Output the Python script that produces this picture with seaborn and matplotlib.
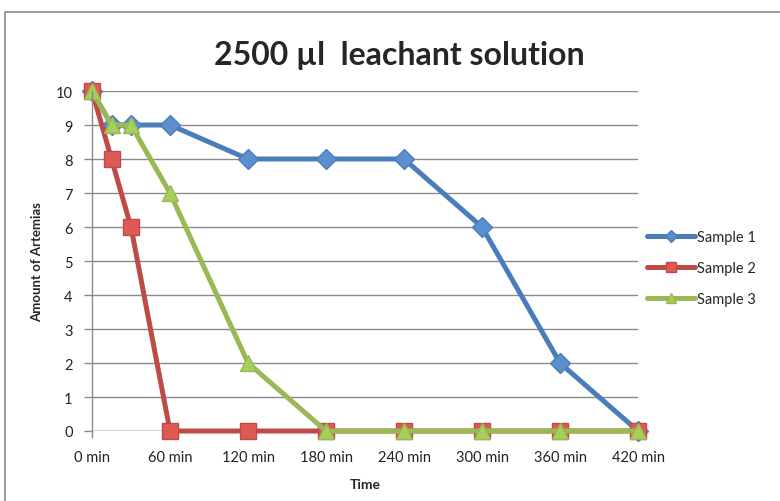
import matplotlib
matplotlib.use("Agg")
import matplotlib.pyplot as plt
import seaborn as sns
import pandas as pd
from matplotlib.patches import Rectangle

minutes = [0, 15, 30, 60, 120, 180, 240, 300, 360, 420]
sample1 = [10, 9, 9, 9, 8, 8, 8, 6, 2, 0]
sample2 = [10, 8, 6, 0, 0, 0, 0, 0, 0, 0]
sample3 = [10, 9, 9, 7, 2, 0, 0, 0, 0, 0]
tick_minutes = [0, 60, 120, 180, 240, 300, 360, 420]
tick_labels = [f"{m} min" for m in tick_minutes]
series_names = ["Sample 1", "Sample 2", "Sample 3"]

rows = []
for name, vals in zip(series_names, [sample1, sample2, sample3]):
    for m, v in zip(minutes, vals):
        rows.append({"Time": m, "Amount": v, "Series": name})
df = pd.DataFrame(rows)

sns.set_style("white")
plt.rcParams["font.family"] = ["Lato", "DejaVu Sans"]

fig = plt.figure(figsize=(7.8, 5.02), dpi=100)
ax = fig.add_axes([92/780, 1-432/502, (638-92)/780, (432-92)/502])

palette = {"Sample 1": "#4a7ebb", "Sample 2": "#be4b48", "Sample 3": "#98b954"}
markers = {"Sample 1": "D", "Sample 2": "s", "Sample 3": "^"}
face = {"Sample 1": "#5b8fd0", "Sample 2": "#e05a55", "Sample 3": "#a6d05a"}

sns.lineplot(data=df, x="Time", y="Amount", hue="Series", style="Series",
             markers=markers, dashes=False, palette=palette, linewidth=3.6,
             markersize=11, ax=ax, legend=False, clip_on=False)

for line, name in zip(ax.lines, series_names):
    line.set_markerfacecolor(face[name])
    line.set_markeredgecolor(palette[name])
    line.set_markeredgewidth(1.0)
    line.set_clip_on(False)
    if name == "Sample 1":
        line.set_markersize(10)
    else:
        line.set_markersize(12)

ax.set_xlim(0, 420)
ax.set_ylim(0, 10)
ax.set_yticks(range(0, 11))
ax.set_xticks(tick_minutes)
ax.set_xticklabels(tick_labels)
ax.yaxis.grid(True, color="#8a8a8a", linewidth=1.0)
ax.set_axisbelow(True)
for s in ["top", "right", "bottom"]:
    ax.spines[s].set_visible(False)
ax.spines["left"].set_color("#8a8a8a")
ax.spines["left"].set_linewidth(1.0)
ax.axhline(0, color="#8a8a8a", linewidth=1.0, zorder=0.5)
ax.tick_params(axis="y", left=True, length=6, width=1, color="#8a8a8a",
               labelsize=10.5, pad=8, labelcolor="#222222")
ax.tick_params(axis="x", bottom=True, length=5, width=1, color="#8a8a8a",
               labelsize=10.5, pad=9, labelcolor="#222222")

ax.set_xlabel("Time", fontsize=10, fontweight="bold", labelpad=10)
ax.set_ylabel("Amount of Artemias", fontsize=9.5, fontweight="bold", labelpad=9)

fig.text(399/780, 1-56/502, "2500 µl  leachant solution", ha="center", va="center",
         fontsize=23, fontweight="bold")

handles = []
for name in series_names:
    h, = ax.plot([], [], color=palette[name], marker=markers[name], linewidth=3.6,
                 markersize=7 if name != "Sample 1" else 6,
                 markerfacecolor=face[name], markeredgecolor=palette[name])
    handles.append(h)
leg = fig.legend(handles, series_names, loc="center left",
                 bbox_to_anchor=(634/780, 1-269/502), frameon=False,
                 fontsize=10.5, handlelength=3.3, handletextpad=0.1,
                 labelspacing=1.15)

fig.add_artist(Rectangle((5/780, -0.1), 1.2, 1-13/502+0.1, transform=fig.transFigure,
                         fill=False, edgecolor="#8c8c8c", linewidth=1.2))

fig.savefig("out.png", dpi=100)
